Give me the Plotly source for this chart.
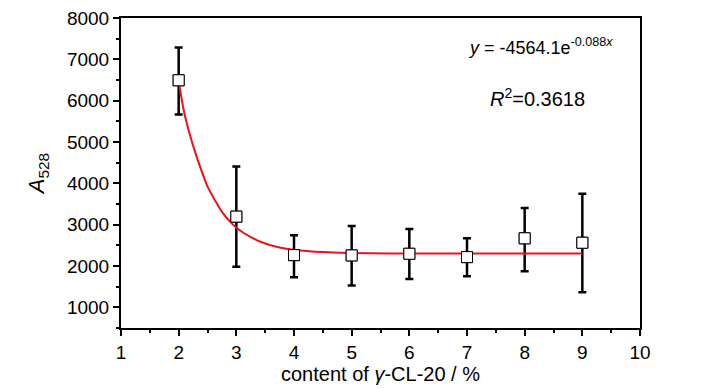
import plotly.graph_objects as go

# data
content = [2, 3, 4, 5, 6, 7, 8, 9]
a528 = [6493, 3195, 2263, 2256, 2296, 2215, 2670, 2563]
err_hi = [7288, 4410, 2742, 2968, 2896, 2670, 3406, 3746]
err_lo = [5667, 1979, 1729, 1527, 1688, 1753, 1875, 1364]

# fitted curve samples
fit_x = [2, 2.1, 2.25, 2.4, 2.5, 2.65, 2.75, 2.9, 3, 3.25, 3.5, 3.75, 4, 4.5, 5, 6, 7, 8, 9]
fit_y = [6493, 5690, 4912, 4290, 3925, 3540, 3310, 3060, 2927, 2700, 2543, 2450, 2394, 2336, 2314, 2302, 2300, 2300, 2300]

x_ticks = list(range(1, 11))
y_ticks = list(range(1000, 8001, 1000))

err_plus = [h - v for h, v in zip(err_hi, a528)]
err_minus = [v - l for v, l in zip(a528, err_lo)]

FONT = "Liberation Sans, Arial, sans-serif"
L, R, T, B = 121, 87, 18, 61
W, H = 727, 389
pw, ph = W - L - R, H - T - B

fig = go.Figure()
fig.add_trace(go.Scatter(
    x=content, y=a528, mode="markers",
    marker=dict(symbol="square", size=11, color="white",
                line=dict(color="black", width=1)),
    error_y=dict(type="data", array=err_plus, arrayminus=err_minus,
                 color="black", thickness=2.5, width=4),
    showlegend=False,
))
fig.add_trace(go.Scatter(
    x=fit_x, y=fit_y, mode="lines",
    line=dict(color="#e8141a", width=2, shape="spline"),
    showlegend=False,
))
fig.add_trace(go.Scatter(
    x=content, y=a528, mode="markers",
    marker=dict(symbol="square", size=11, color="white",
                line=dict(color="black", width=1)),
    showlegend=False, hoverinfo="skip",
))

axis_common = dict(
    showline=True, linecolor="black", linewidth=2, mirror=True,
    ticks="outside", ticklen=6, tickwidth=2, tickcolor="black",
    showgrid=False, zeroline=False,
    tickfont=dict(family=FONT, size=19, color="black"),
)

fig.update_xaxes(
    range=[1, 10], tickvals=x_ticks,
    minor=dict(ticks="outside", ticklen=3, tickwidth=2, tickcolor="black", dtick=0.5, tick0=1),
    title=dict(text="content of <i>γ</i>-CL-20 / %", font=dict(family=FONT, size=20, color="black"), standoff=4),
    **axis_common,
)
fig.update_yaxes(
    range=[500, 8000], tickvals=y_ticks,
    minor=dict(ticks="outside", ticklen=3, tickwidth=2, tickcolor="black", dtick=500, tick0=500),
    title=dict(text="<i>A</i><sub>528</sub>", font=dict(family=FONT, size=22, color="black"), standoff=16),
    automargin=False,
    **axis_common,
)


def px2paper(px, py):
    return (px - L) / pw, 1 - (py - T) / ph


ax1, ay1 = px2paper(540, 46)
ax2, ay2 = px2paper(537, 97)
fig.add_annotation(
    x=ax1, y=ay1, xref="paper", yref="paper", xanchor="center", yanchor="middle",
    showarrow=False, text="<i>y</i> = -4564.1e<sup>-0.088<i>x</i></sup>",
    font=dict(family=FONT, size=18, color="black"),
)
fig.add_annotation(
    x=ax2, y=ay2, xref="paper", yref="paper", xanchor="center", yanchor="middle",
    showarrow=False, text="<i>R</i><sup>2</sup>=0.3618",
    font=dict(family=FONT, size=20, color="black"),
)

fig.update_layout(
    width=W, height=H,
    margin=dict(l=L, r=R, t=T, b=B, autoexpand=False),
    plot_bgcolor="white", paper_bgcolor="white",
)

fig.write_html("out.html", config={"displayModeBar": False},
               post_script="document.body.style.margin='0';")
